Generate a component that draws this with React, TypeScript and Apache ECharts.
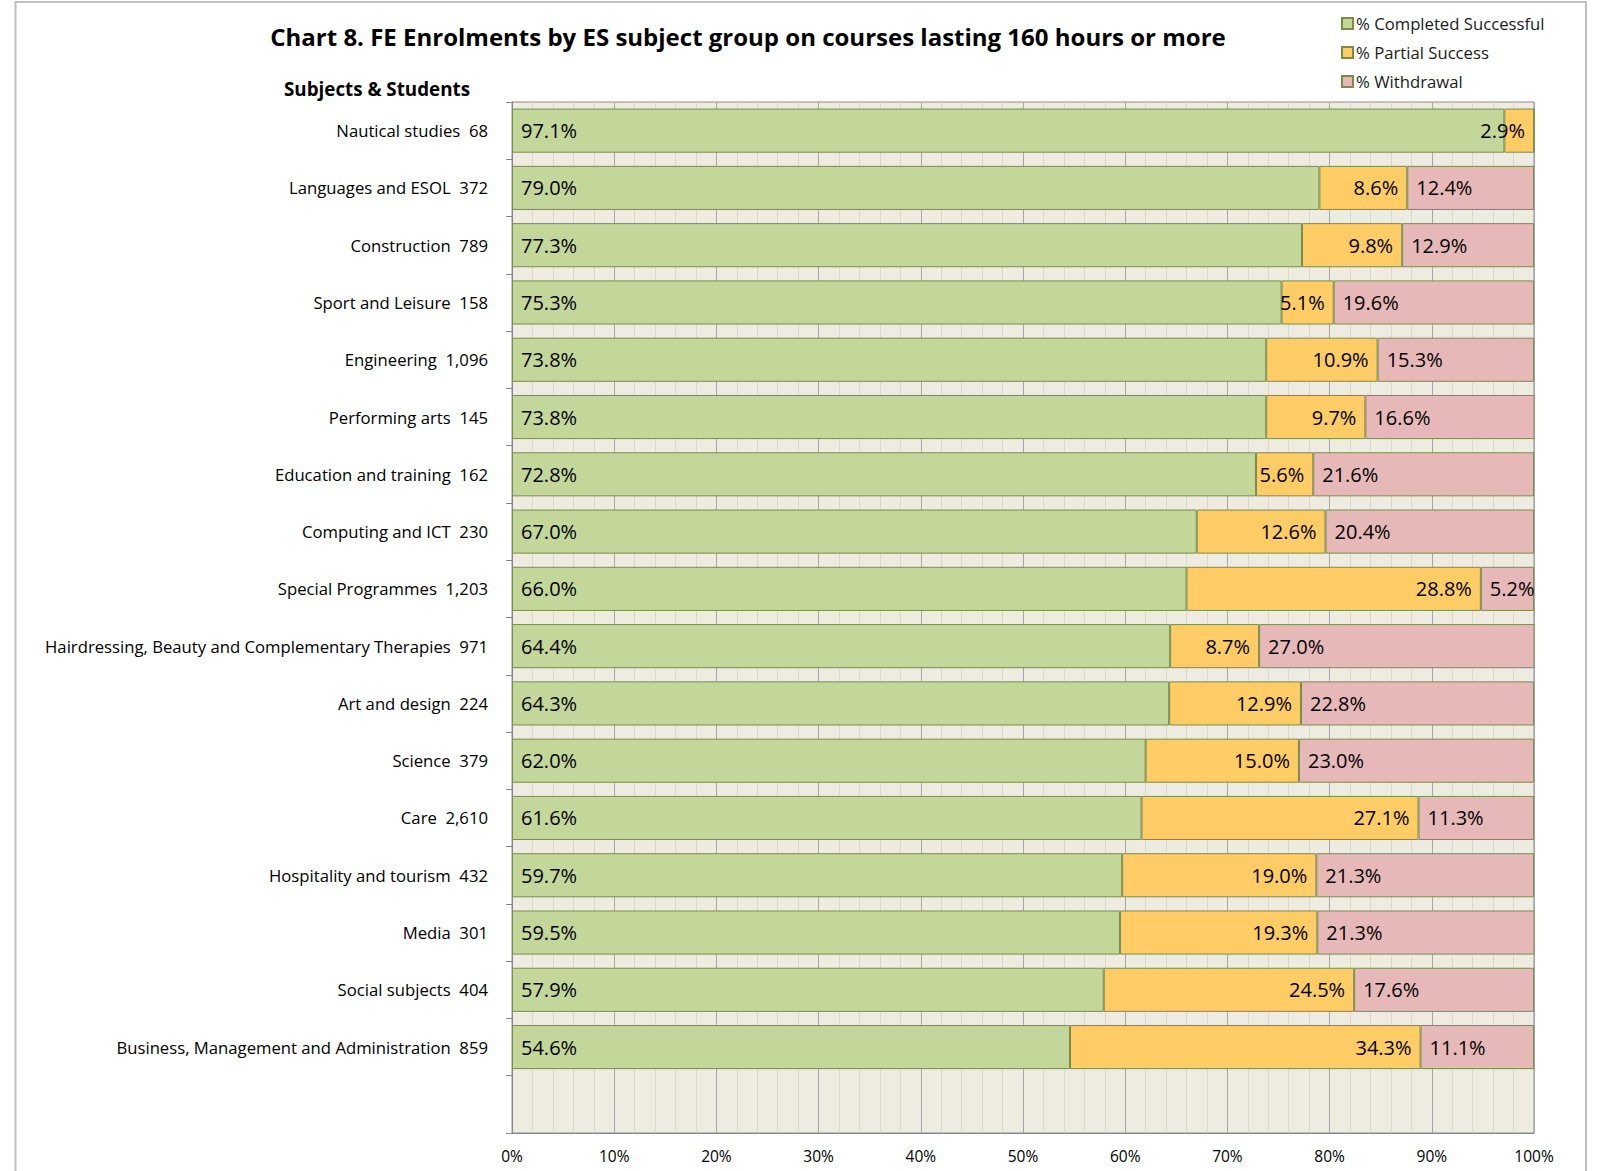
import React, { useEffect, useRef } from "react";
import * as echarts from "echarts";

const subjects = [
  "Nautical studies",
  "Languages and ESOL",
  "Construction",
  "Sport and Leisure",
  "Engineering",
  "Performing arts",
  "Education and training",
  "Computing and ICT",
  "Special Programmes",
  "Hairdressing, Beauty and Complementary Therapies",
  "Art and design",
  "Science",
  "Care",
  "Hospitality and tourism",
  "Media",
  "Social subjects",
  "Business, Management and Administration",
];
const students = ["68", "372", "789", "158", "1,096", "145", "162", "230", "1,203", "971", "224", "379", "2,610", "432", "301", "404", "859"];
const completed = [97.1, 79.0, 77.3, 75.3, 73.8, 73.8, 72.8, 67.0, 66.0, 64.4, 64.3, 62.0, 61.6, 59.7, 59.5, 57.9, 54.6];
const partial = [2.9, 8.6, 9.8, 5.1, 10.9, 9.7, 5.6, 12.6, 28.8, 8.7, 12.9, 15.0, 27.1, 19.0, 19.3, 24.5, 34.3];
const withdrawal = [0, 12.4, 12.9, 19.6, 15.3, 16.6, 21.6, 20.4, 5.2, 27.0, 22.8, 23.0, 11.3, 21.3, 21.3, 17.6, 11.1];
const xTicks = [0, 10, 20, 30, 40, 50, 60, 70, 80, 90, 100];

const FONT = "'Open Sans', sans-serif";

export default function App() {
  const ref = useRef<HTMLDivElement>(null);
  useEffect(() => {
    if (!ref.current) return;
    const chart = echarts.init(ref.current, undefined, { renderer: "svg" });
    const cats = subjects.map((s, i) => `${s}  ${students[i]}`).concat([""]);
    const pad = (arr: number[]) => arr.concat([null as any]);
    const fmt = (p: any) => (p.value ? Number(p.value).toFixed(1) + "%" : "");
    const border = "#7A8C4A";
    const mkSeries = (name: string, data: number[], color: string, pos: string) => ({
      name,
      type: "bar",
      stack: "total",
      data: pad(data),
      barCategoryGap: "23%",
      itemStyle: { color, borderColor: border, borderWidth: 1 },
      label: {
        show: true,
        position: pos,
        distance: 9,
        formatter: fmt,
        fontSize: 20,
        fontFamily: FONT,
        color: "#000",
      },
    });
    chart.setOption({
      animation: false,
      backgroundColor: "#fff",
      textStyle: { fontFamily: FONT },
      title: [
        {
          text: "Chart 8. FE Enrolments by ES subject group on courses lasting 160 hours or more",
          left: 743,
          top: 19,
          textAlign: "center",
          textStyle: { fontSize: 24, fontWeight: "bold", fontFamily: FONT, color: "#000" },
        },
        {
          text: "Subjects & Students",
          left: 372,
          top: 74,
          textAlign: "center",
          textStyle: { fontSize: 18.8, fontWeight: "bold", fontFamily: FONT, color: "#000" },
        },
      ],
      legend: {
        orient: "vertical",
        left: 1336,
        top: 10,
        itemWidth: 11,
        itemHeight: 11,
        itemGap: 12,
        icon: "rect",
        textStyle: { fontSize: 16.7, fontFamily: FONT, color: "#1a1a1a", padding: [0, 0, 0, -2] },
        data: ["% Completed Successful", "% Partial Success", "% Withdrawal"],
      },
      graphic: [
        {
          type: "rect",
          shape: { x: 15.5, y: 2, width: 1570.5, height: 1250 },
          style: { fill: "none", stroke: "#BFBFBF", lineWidth: 2 },
          silent: true,
        },
      ],
      grid: {
        left: 512,
        top: 102,
        right: 64,
        bottom: 38,
        show: true,
        backgroundColor: "#EEECE1",
        borderColor: "#8C8C8C",
        borderWidth: 1,
      },
      xAxis: {
        type: "value",
        min: 0,
        max: 100,
        interval: 10,
        axisLine: { show: true, lineStyle: { color: "#868686" } },
        axisTick: { show: false },
        axisLabel: {
          formatter: (v: number) => (xTicks.includes(v) ? `${v}%` : ""),
          fontSize: 15.5,
          fontFamily: FONT,
          color: "#000",
          margin: 15,
        },
        splitLine: { show: true, lineStyle: { color: "#A6A6A6", width: 1 } },
        minorTick: { show: false, splitNumber: 5 },
        minorSplitLine: { show: true, lineStyle: { color: "#D9D7CC", width: 1 } },
      },
      yAxis: {
        type: "category",
        inverse: true,
        data: cats,
        axisLine: { show: true, lineStyle: { color: "#868686" } },
        axisTick: { show: true, length: 6, lineStyle: { color: "#868686" } },
        axisLabel: { fontSize: 16.7, fontFamily: FONT, color: "#000", margin: 24 },
        splitLine: { show: false },
      },
      series: [
        mkSeries("% Completed Successful", completed, "#C4D79B", "insideLeft"),
        mkSeries("% Partial Success", partial, "#FFCC66", "insideRight"),
        mkSeries("% Withdrawal", withdrawal, "#E6B9B8", "insideLeft"),
      ],
    });
    return () => chart.dispose();
  }, []);
  return (
    <div
      ref={ref}
      style={{ position: "fixed", left: 0, top: 0, width: 1598, height: 1171 }}
    />
  );
}
